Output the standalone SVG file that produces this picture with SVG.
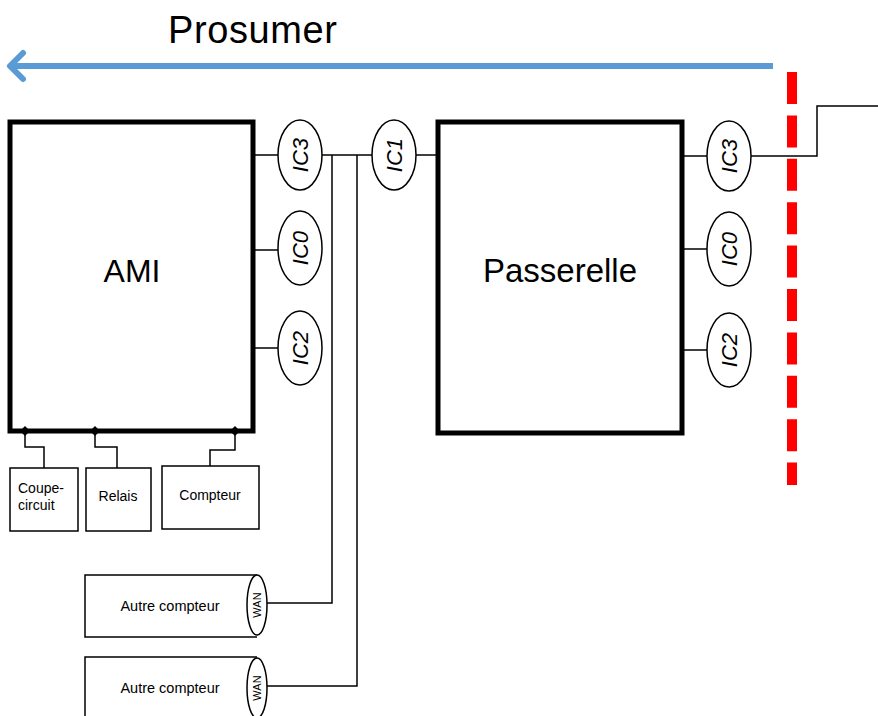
<svg xmlns="http://www.w3.org/2000/svg" width="878" height="716" viewBox="0 0 878 716">
<style>
.box{fill:#fff;stroke:#000;stroke-width:5}
.sm{fill:#fff;stroke:#000;stroke-width:1.5}
.wire{fill:none;stroke:#000;stroke-width:1.5}
.ic{fill:#fff;stroke:#000;stroke-width:1.5}
.dot{fill:#000}
.t{font-family:"Liberation Sans",Arial,sans-serif;fill:#000}
.ict{font-family:"Liberation Sans",Arial,sans-serif;font-style:italic;font-size:22px;text-anchor:middle;dominant-baseline:central}
.wan{font-family:"Liberation Sans",Arial,sans-serif;font-size:11px;text-anchor:middle;dominant-baseline:central}
</style>
<text class="t" x="168" y="43" font-size="38" textLength="169" font-family="Liberation Sans Narrow, Liberation Sans, sans-serif">Prosumer</text>
<g id="arrow">
<line x1="773" y1="66" x2="12" y2="66" stroke="#5b9bd5" stroke-width="6"/>
<polyline points="23,53 10,66 23,79" fill="none" stroke="#5b9bd5" stroke-width="6" stroke-linecap="round" stroke-linejoin="round"/>
</g>
<g id="boundary">
<line x1="792" y1="72" x2="792" y2="485" stroke="#ff0000" stroke-width="10" stroke-dasharray="32 11.4"/>
</g>
<g id="connectors">
<line class="wire" x1="253" y1="155" x2="278" y2="155"/>
<line class="wire" x1="253" y1="250" x2="278" y2="250"/>
<line class="wire" x1="253" y1="348" x2="278" y2="348"/>
<line class="wire" x1="322" y1="155" x2="372" y2="155"/>
<line class="wire" x1="416" y1="155" x2="438" y2="155"/>
<line class="wire" x1="682" y1="156" x2="707" y2="156"/>
<line class="wire" x1="682" y1="249" x2="707" y2="249"/>
<line class="wire" x1="682" y1="350" x2="707" y2="350"/>
<polyline class="wire" points="751,156 817,156 817,106 878,106"/>
<polyline class="wire" points="332,155 332,603 267,603"/>
<polyline class="wire" points="357,155 357,686 267,686"/>
<polyline class="wire" points="25,431 25,447 44,447 44,468"/>
<polyline class="wire" points="95,431 95,447 117,447 117,468"/>
<polyline class="wire" points="235,431 235,450 210,450 210,466"/>
</g>
<g id="ami">
<rect class="box" x="10" y="122" width="243" height="309"/>
<text class="t" x="132" y="282" font-size="32" text-anchor="middle">AMI</text>
<path class="dot" d="M25,426 L30,431 L25,436 L20,431 Z"/>
<path class="dot" d="M95,426 L100,431 L95,436 L90,431 Z"/>
<path class="dot" d="M235,426 L240,431 L235,436 L230,431 Z"/>
</g>
<g id="passerelle">
<rect class="box" x="438" y="122" width="244" height="311"/>
<text class="t" x="560" y="282" font-size="33" text-anchor="middle">Passerelle</text>
</g>
<g id="ic3-ami"><ellipse class="ic" cx="300" cy="155" rx="22" ry="35"/><text class="ict" transform="translate(300,155) rotate(-90)">IC3</text></g>
<g id="ic0-ami"><ellipse class="ic" cx="300" cy="248" rx="22" ry="37"/><text class="ict" transform="translate(300,248) rotate(-90)">IC0</text></g>
<g id="ic2-ami"><ellipse class="ic" cx="300" cy="348" rx="22" ry="37"/><text class="ict" transform="translate(300,348) rotate(-90)">IC2</text></g>
<g id="ic1"><ellipse class="ic" cx="394" cy="155" rx="22" ry="35"/><text class="ict" transform="translate(394,155) rotate(-90)">IC1</text></g>
<g id="ic3-pas"><ellipse class="ic" cx="729" cy="156" rx="22" ry="35"/><text class="ict" transform="translate(729,156) rotate(-90)">IC3</text></g>
<g id="ic0-pas"><ellipse class="ic" cx="729" cy="249" rx="22" ry="37"/><text class="ict" transform="translate(729,249) rotate(-90)">IC0</text></g>
<g id="ic2-pas"><ellipse class="ic" cx="729" cy="350" rx="22" ry="37"/><text class="ict" transform="translate(729,350) rotate(-90)">IC2</text></g>
<g id="coupe-circuit">
<rect class="sm" x="10" y="468" width="68" height="63"/>
<text class="t" x="18" y="493" font-size="14">Coupe-</text>
<text class="t" x="18" y="510" font-size="14">circuit</text>
</g>
<g id="relais">
<rect class="sm" x="86" y="468" width="65" height="63"/>
<text class="t" x="118" y="501" font-size="14" text-anchor="middle">Relais</text>
</g>
<g id="compteur">
<rect class="sm" x="162" y="466" width="97" height="63"/>
<text class="t" x="210" y="500" font-size="14" text-anchor="middle">Compteur</text>
</g>
<g id="autre1">
<path class="sm" d="M257,575 L85,575 L85,637 L257,637"/>
<ellipse class="ic" cx="257" cy="605" rx="10" ry="30"/>
<text class="t" x="170" y="611" font-size="14.5" text-anchor="middle">Autre compteur</text>
<text class="wan" transform="translate(257,605) rotate(-90)">WAN</text>
</g>
<g id="autre2">
<path class="sm" d="M257,657 L85,657 L85,720"/>
<ellipse class="ic" cx="257" cy="688" rx="10" ry="30"/>
<text class="t" x="170" y="693" font-size="14.5" text-anchor="middle">Autre compteur</text>
<text class="wan" transform="translate(257,688) rotate(-90)">WAN</text>
</g>
</svg>
